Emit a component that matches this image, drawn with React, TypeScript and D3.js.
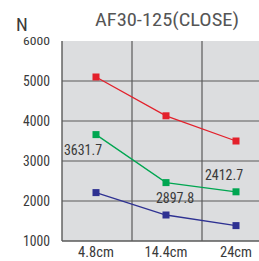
import React from "react";
import * as d3 from "d3";

const categories = ["4.8cm", "14.4cm", "24cm"];
const yTicks = [1000, 2000, 3000, 4000, 5000, 6000];
const redValues = [5100, 4130, 3500];
const greenValues = [3660, 2460, 2230];
const blueValues = [2210, 1650, 1385];
const greenLabels = ["3631.7", "2897.8", "2412.7"];
const title = "AF30-125(CLOSE)";
const unit = "N";

const W = 259;
const H = 261;
const FONT = "'Liberation Sans Narrow', 'Roboto Condensed', Roboto, sans-serif";

export default function App() {
  const left = 62;
  const bandW = 70;
  const x = d3.scaleBand<string>().domain(categories).range([left, left + bandW * 3]).padding(0);
  const cx = (c: string) => (x(c) as number) + x.bandwidth() / 2 - 1;
  const y = d3.scaleLinear().domain([1000, 6000]).range([241, 41]);

  const series = [
    { values: redValues, color: "#e3202b" },
    { values: greenValues, color: "#00a651" },
    { values: blueValues, color: "#2e3192" },
  ];
  const line = d3
    .line<number>()
    .x((_, i) => cx(categories[i]))
    .y((v) => y(v));

  const labelOffsets = [
    { dx: -13, dy: 20 },
    { dx: 9, dy: 20 },
    { dx: -12, dy: -12 },
  ];

  return (
    <svg width={W} height={H} style={{ position: "absolute", left: 0, top: 0 }}>
      <rect x={0} y={0} width={W} height={H} fill="#fff" />
      <rect x={left} y={y(6000)} width={bandW * 3} height={y(1000) - y(6000)} fill="#dcdddf" />
      {yTicks.slice(1, -1).map((t) => (
        <line key={t} x1={left} x2={W} y1={y(t)} y2={y(t)} stroke="#5a5a5a" strokeWidth={1.2} />
      ))}
      {categories.slice(1).map((c) => (
        <line key={c} x1={x(c) as number} x2={x(c) as number} y1={y(6000)} y2={y(1000)} stroke="#5a5a5a" strokeWidth={1.2} />
      ))}
      <line x1={left} x2={left} y1={y(6000)} y2={y(1000)} stroke="#5a5a5a" strokeWidth={1.4} />
      <line x1={left} x2={W} y1={y(1000)} y2={y(1000)} stroke="#5a5a5a" strokeWidth={1.4} />
      {series.map((s, si) => (
        <g key={si}>
          <path d={line(s.values) as string} fill="none" stroke={s.color} strokeWidth={1.3} />
          {s.values.map((v, i) => (
            <rect key={i} x={cx(categories[i]) - 3.5} y={y(v) - 3.5} width={7} height={7} fill={s.color} />
          ))}
        </g>
      ))}
      {greenLabels.map((l, i) => (
        <text
          key={i}
          x={cx(categories[i]) + labelOffsets[i].dx}
          y={y(greenValues[i]) + labelOffsets[i].dy}
          textAnchor="middle"
          fontFamily={FONT}
          fontSize={14}
          fill="#3a3a3a"
        >
          {l}
        </text>
      ))}
      {yTicks.map((t) => (
        <text
          key={t}
          x={50}
          y={y(t) + (t === 6000 ? 4 : 5)}
          textAnchor="end"
          fontFamily={FONT}
          fontSize={t === 6000 ? 11.5 : 14.5}
          fill="#3a3a3a"
          textLength={27}
          lengthAdjust="spacingAndGlyphs"
        >
          {t}
        </text>
      ))}
      {categories.map((c) => (
        <text key={c} x={cx(c)} y={257} textAnchor="middle" fontFamily={FONT} fontSize={14.5} fill="#3a3a3a">
          {c}
        </text>
      ))}
      <text x={16} y={31} fontFamily={FONT} fontSize={19} fill="#3a3a3a">
        {unit}
      </text>
      <text
        x={167}
        y={26}
        textAnchor="middle"
        fontFamily={FONT}
        fontSize={19}
        fill="#555"
        textLength={144}
        lengthAdjust="spacingAndGlyphs"
      >
        {title}
      </text>
    </svg>
  );
}
